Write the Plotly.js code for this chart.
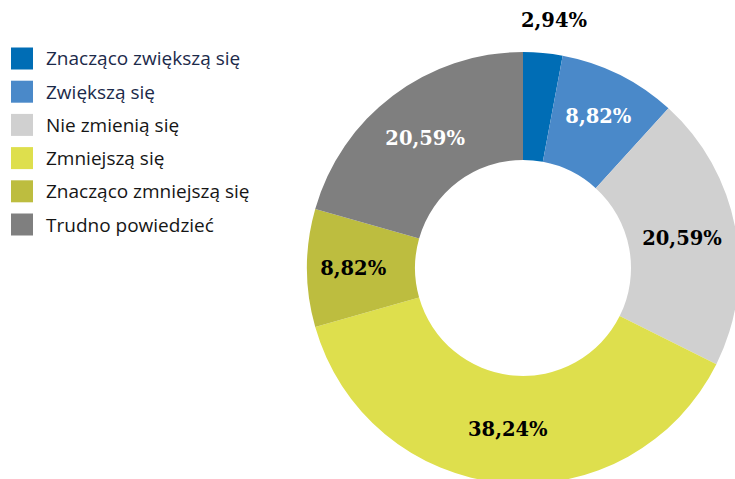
<!DOCTYPE html>
<html>
<head>
<meta charset="utf-8">
<script src="https://cdn.plot.ly/plotly-3.0.1.min.js"></script>
<style>html,body{margin:0;padding:0;overflow:hidden;background:#fff;}</style>
</head>
<body>
<div id="chart"></div>
<script>
const categories = ["Znacząco zwiększą się", "Zwiększą się", "Nie zmienią się", "Zmniejszą się", "Znacząco zmniejszą się", "Trudno powiedzieć"];
const values = [2.94, 8.82, 20.59, 38.24, 8.82, 20.59];
const colors = ["#006db5", "#4a89c9", "#d0d0d0", "#dedf4d", "#bdbd3f", "#7f7f7f"];
const textColors = ["#000000", "#ffffff", "#000000", "#000000", "#000000", "#ffffff"];
const legendTextColors = ["#1c2a4a", "#1c2a4a", "#161616", "#161616", "#161616", "#161616"];
const textPositions = ["none", "inside", "inside", "inside", "inside", "inside"];

const W = 740, H = 490;
const px = x => x / W;
const py = y => 1 - y / H;
const fmt = v => v.toFixed(2).replace('.', ',') + '%';

const shapes = [];
const annotations = [];
categories.forEach((c, i) => {
  const cy = 58.5 + i * 33.2;
  shapes.push({type: 'rect', xref: 'paper', yref: 'paper',
    x0: px(11), x1: px(33), y0: py(cy - 11), y1: py(cy + 11),
    fillcolor: colors[i], line: {width: 0}});
  annotations.push({xref: 'paper', yref: 'paper', x: px(44), y: py(cy),
    xanchor: 'left', yanchor: 'middle', showarrow: false, text: c,
    font: {family: 'Open Sans', size: 19, color: legendTextColors[i]}});
});
// outside label for the smallest slice
annotations.push({xref: 'paper', yref: 'paper', x: px(554), y: py(20),
  xanchor: 'center', yanchor: 'middle', showarrow: false, text: fmt(values[0]),
  font: {family: 'DejaVu Serif', size: 19.5, color: '#000000', weight: 'bold'}});

const trace = {
  type: 'pie',
  labels: categories,
  values: values,
  sort: false,
  direction: 'clockwise',
  rotation: 0,
  hole: 0.5,
  marker: {colors: colors, line: {width: 0}},
  textposition: textPositions,
  texttemplate: '%{value:.2f}%',
  insidetextorientation: 'horizontal',
  insidetextfont: {family: 'DejaVu Serif', size: 19.5, color: textColors, weight: 'bold'},
  textfont: {family: 'DejaVu Serif', size: 19.5, weight: 'bold'},
  domain: {x: [px(307), px(739)], y: [py(484), py(52)]},
  showlegend: false,
  hoverinfo: 'label+value'
};

const layout = {
  width: W, height: H,
  margin: {l: 0, r: 0, t: 0, b: 0},
  paper_bgcolor: '#ffffff',
  separators: ', ',
  showlegend: false,
  shapes: shapes,
  annotations: annotations
};

Plotly.newPlot('chart', [trace], layout, {displayModeBar: false, staticPlot: true});
</script>
</body>
</html>
